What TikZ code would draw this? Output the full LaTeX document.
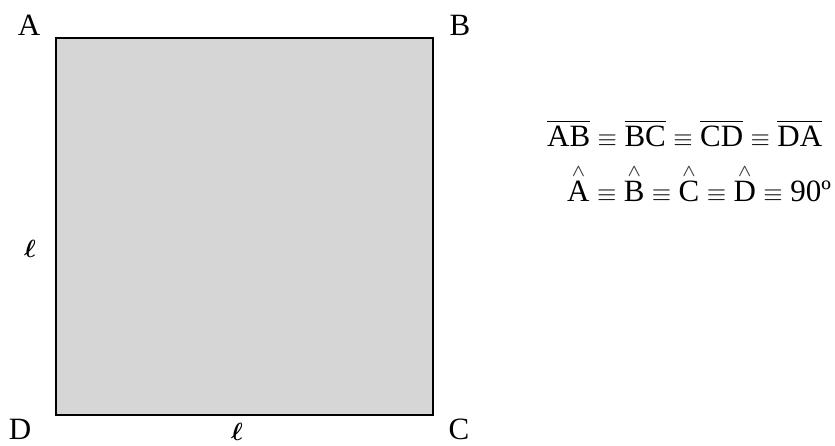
\documentclass[tikz,border=0pt]{standalone}
\usepackage{amsmath,amssymb,bm}
\usepackage{fontspec}
\setmainfont{Liberation Serif}
\definecolor{sqfill}{RGB}{214,214,214}
\newcommand{\ovl}[1]{\ensuremath{\overline{\hbox{#1}}}}
\newcommand{\hatl}[1]{\leavevmode\hbox{\ooalign{#1\cr\hidewidth\raisebox{24.5pt}{\fontsize{17pt}{17pt}\selectfont\color{black!75}$\bm{\wedge}$}\hidewidth\cr}}}
\newcommand{\eqv}{\hspace{0.24em}\ensuremath{\equiv}\hspace{0.24em}}
\begin{document}
\begin{tikzpicture}[x=1pt,y=-1pt,
  lbl/.style={inner sep=0pt,font=\fontsize{31pt}{32pt}\selectfont},
  ell/.style={inner sep=0pt,font=\fontsize{31pt}{32pt}\selectfont},
  sq/.style={draw=black,line width=2.4pt,fill=sqfill}]
\useasboundingbox (0,0) rectangle (835,445);
\draw[sq] (56,38) rectangle (433,415);
\node[lbl] (A) at (29,25) {A};
\node[lbl] (B) at (460,25) {B};
\node[lbl] (C) at (459,429) {C};
\node[lbl] (D) at (20,429) {D};
\node[ell] (l1) at (30,249) {$\bm{\ell}$};
\node[ell] (l2) at (237,432) {$\bm{\ell}$};
\node[lbl,anchor=base west] (eq1) at (547,146) {\ovl{AB}\eqv\ovl{BC}\eqv\ovl{CD}\eqv\ovl{DA}};
\node[lbl,anchor=base west] (eq2) at (567,201) {\hatl{A}\eqv\hatl{B}\eqv\hatl{C}\eqv\hatl{D}\eqv 90º};
\end{tikzpicture}
\end{document}
